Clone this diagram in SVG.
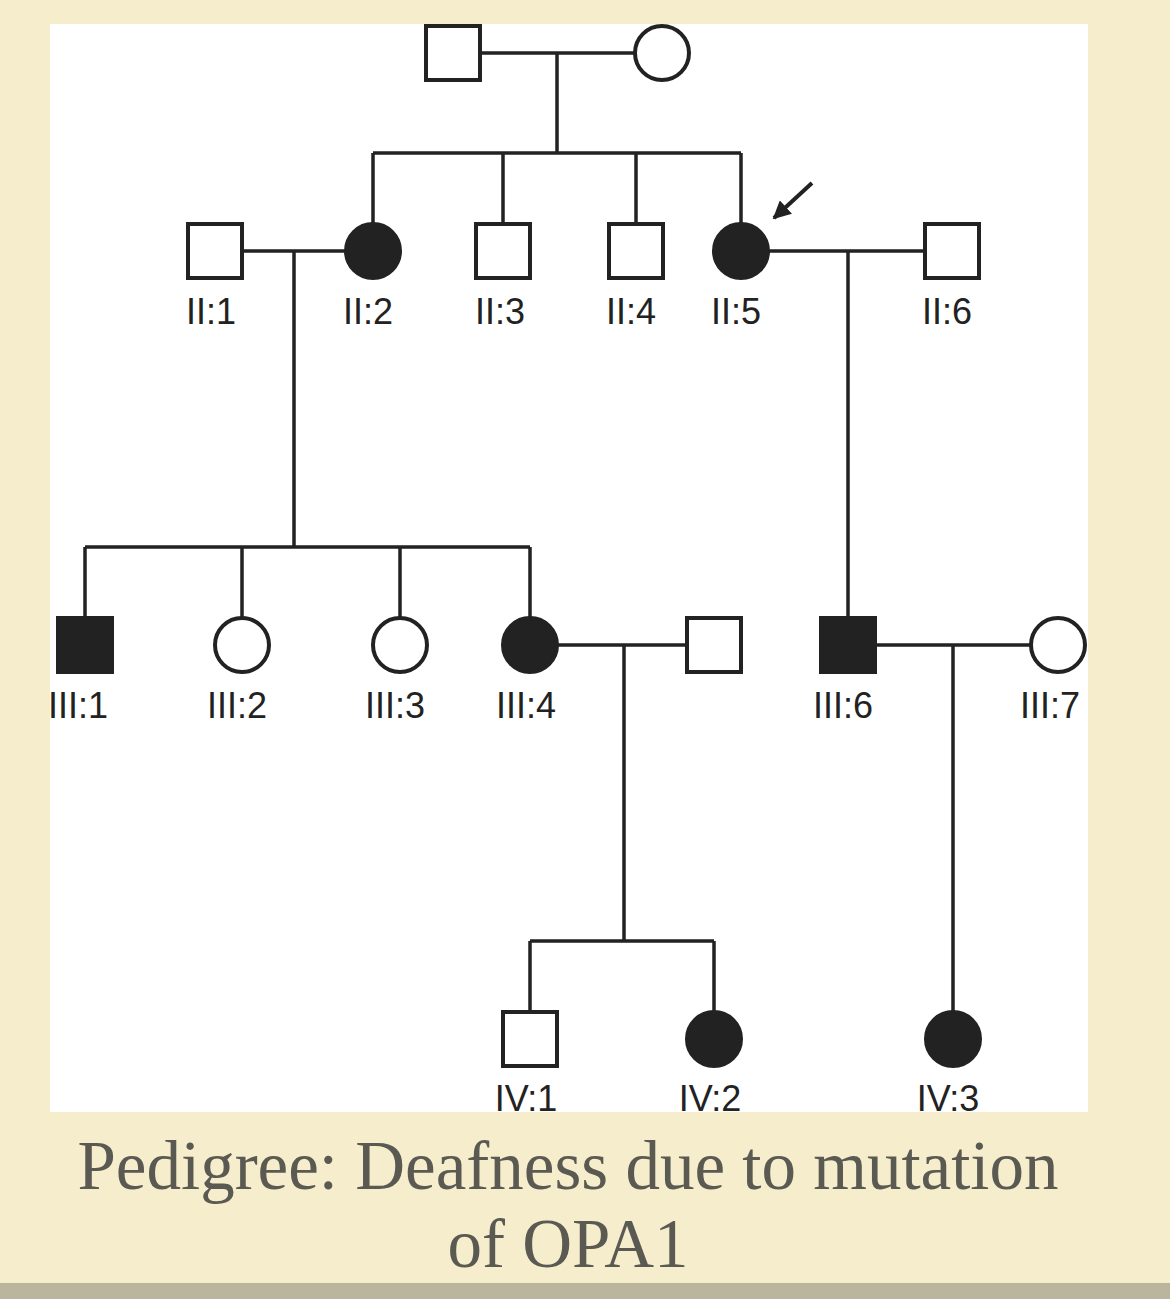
<svg xmlns="http://www.w3.org/2000/svg" width="1170" height="1299" viewBox="0 0 1170 1299">
<style>
.o{fill:#fff;stroke:#222;stroke-width:4}
.f{fill:#222;stroke:#222;stroke-width:4}
.l{stroke:#222;stroke-width:3.5;fill:none}
.t{font-family:"Liberation Sans",Arial,sans-serif;font-size:36px;fill:#222;text-anchor:middle}
.c{font-family:"Liberation Serif","Times New Roman",serif;font-size:69px;fill:#5a5a52;text-anchor:middle}
</style>
<defs><marker id="ah" viewBox="0 0 10 10" refX="9" refY="5" markerWidth="4.5" markerHeight="4.5" orient="auto"><path d="M0,0L10,5L0,10z" fill="#222"/></marker></defs>
<rect width="1170" height="1299" fill="#f6edcc"/>
<rect x="0" y="1283" width="1170" height="16" fill="#bab59c"/>
<rect x="50" y="24" width="1038" height="1088" fill="#fff"/>
<g id="connectors" class="l">
<path d="M480,53H635M557,53V153M373,153H741M373,153V223M503,153V223M636,153V223M741,153V223"/>
<path d="M243,251H345M294,251V547M85,547H530M85,547V617M242,547V617M400,547V617M530,547V617"/>
<path d="M769,251H924M848,251V617"/>
<path d="M558,645H686M624,645V941M530,941H714M530,941V1011M714,941V1011"/>
<path d="M876,645H1030M953,645V1011"/>
<path d="M812,183L774,218" stroke-width="4" marker-end="url(#ah)"/>
</g>
<g id="I1"><rect class="o" x="426" y="26" width="54" height="54"/></g>
<g id="I2"><circle class="o" cx="662" cy="53" r="27"/></g>
<g id="II1"><rect class="o" x="188" y="224" width="54" height="54"/><text class="t" x="211" y="324">II:1</text></g>
<g id="II2"><circle class="f" cx="373" cy="251" r="27"/><text class="t" x="368" y="324">II:2</text></g>
<g id="II3"><rect class="o" x="476" y="224" width="54" height="54"/><text class="t" x="500" y="324">II:3</text></g>
<g id="II4"><rect class="o" x="609" y="224" width="54" height="54"/><text class="t" x="631" y="324">II:4</text></g>
<g id="II5"><circle class="f" cx="741" cy="251" r="27"/><text class="t" x="736" y="324">II:5</text></g>
<g id="II6"><rect class="o" x="925" y="224" width="54" height="54"/><text class="t" x="947" y="324">II:6</text></g>
<g id="III1"><rect class="f" x="58" y="618" width="54" height="54"/><text class="t" x="78" y="718">III:1</text></g>
<g id="III2"><circle class="o" cx="242" cy="645" r="27"/><text class="t" x="237" y="718">III:2</text></g>
<g id="III3"><circle class="o" cx="400" cy="645" r="27"/><text class="t" x="395" y="718">III:3</text></g>
<g id="III4"><circle class="f" cx="530" cy="645" r="27"/><text class="t" x="526" y="718">III:4</text></g>
<g id="III5"><rect class="o" x="687" y="618" width="54" height="54"/></g>
<g id="III6"><rect class="f" x="821" y="618" width="54" height="54"/><text class="t" x="843" y="718">III:6</text></g>
<g id="III7"><circle class="o" cx="1058" cy="645" r="27"/><text class="t" x="1050" y="718">III:7</text></g>
<g id="IV1"><rect class="o" x="503" y="1012" width="54" height="54"/><text class="t" x="526" y="1111">IV:1</text></g>
<g id="IV2"><circle class="f" cx="714" cy="1039" r="27"/><text class="t" x="710" y="1111">IV:2</text></g>
<g id="IV3"><circle class="f" cx="953" cy="1039" r="27"/><text class="t" x="948" y="1111">IV:3</text></g>
<text class="c" x="568" y="1189">Pedigree: Deafness due to mutation</text>
<text class="c" x="568" y="1267">of OPA1</text>
</svg>
